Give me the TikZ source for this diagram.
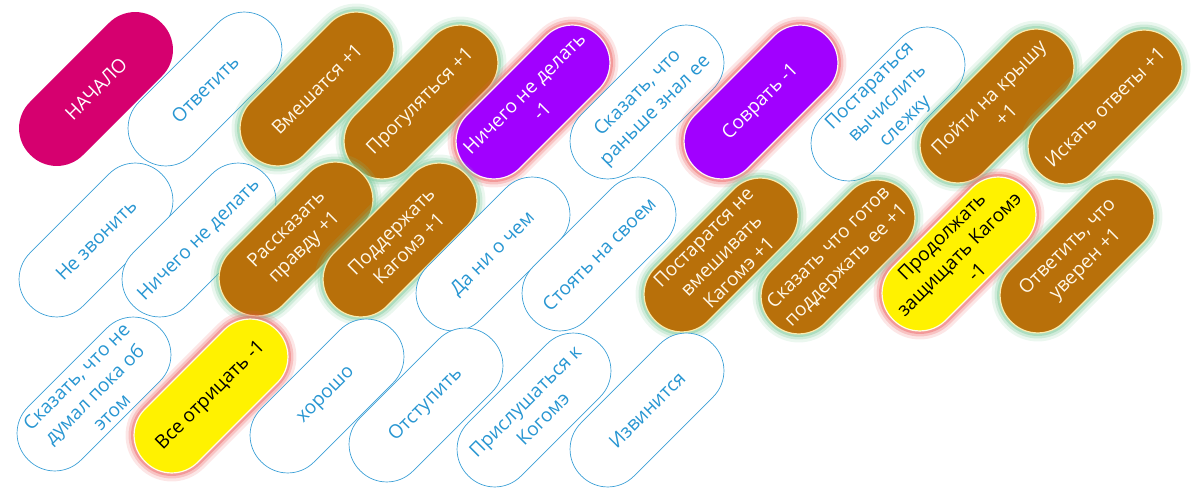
\documentclass[tikz,border=0pt]{standalone}
\usepackage{fontspec}
\setmainfont{Open Sans}
\definecolor{startmag}{RGB}{214,0,111}
\definecolor{textblue}{RGB}{40,150,210}
\definecolor{lineblue}{RGB}{60,160,215}
\definecolor{brownfill}{RGB}{184,112,10}
\definecolor{creamline}{RGB}{250,235,175}
\definecolor{creamtext}{RGB}{255,248,232}
\definecolor{violetfill}{RGB}{161,0,255}
\definecolor{glowgreen}{RGB}{120,200,150}
\definecolor{glowred}{RGB}{235,90,90}
\tikzset{
  font=\fontsize{19}{25}\selectfont,          % text size of the pills
  pill/.style    = {rectangle, rounded corners=37pt, minimum width=186pt,
                    minimum height=75pt, inner sep=0pt, align=center, rotate=45},
  start/.style   = {pill, fill=startmag, text=white},
  neutral/.style = {pill, fill=white, draw=lineblue, line width=0.7pt, text=textblue},
  glow/.style    = {preaction={draw=#1, line width=17pt, draw opacity=.15, line join=round},
                    preaction={draw=#1, line width=11pt, draw opacity=.25, line join=round},
                    preaction={draw=#1, line width=6pt, draw opacity=.4, line join=round}},
  plus/.style    = {pill, glow=glowgreen, fill=brownfill, draw=creamline,
                    line width=1.2pt, text=creamtext},
  minus/.style   = {pill, glow=glowred, fill=violetfill, draw=white!85!pink,
                    line width=1.2pt, text=white},
  risky/.style   = {pill, glow=glowred, fill=yellow, draw=white!90!yellow,
                    line width=1.2pt, text=black}
}
\begin{document}
\begin{tikzpicture}[x=1pt, y=-1pt]
  \useasboundingbox (0,0) rectangle (1194,490);
  % top row
  \node[start]   (begin)   at (96,89)   {НАЧАЛО};
  \node[neutral] (answer)  at (205,89)  {Ответить};
  \node[plus]    (meddle)  at (317,89)  {Вмешатся +1};
  \node[plus]    (walk)    at (421,102) {Прогуляться +1};
  \node[minus]   (idle)    at (533,102) {Ничего не делать\\-1};
  \node[neutral] (knewher) at (647,102) {Сказать, что\\раньше знал ее};
  \node[minus]   (lie)     at (761,102) {Соврать -1};
  \node[neutral] (trace)   at (888,104) {Постараться\\вычислить\\слежку};
  \node[plus]    (roof)    at (997,106) {Пойти на крышу\\+1};
  \node[plus]    (seek)    at (1105,107) {Искать ответы +1};
  % middle row
  \node[neutral] (nocall)  at (96,240)  {Не звонить};
  \node[neutral] (idle2)   at (199,240) {Ничего не делать};
  \node[plus]    (truth)   at (296,239) {Рассказать\\правду +1};
  \node[plus]    (support) at (400,240) {Поддержать\\Кагомэ +1};
  \node[neutral] (nothing) at (493,254) {Да ни о чем};
  \node[neutral] (stand)   at (599,254) {Стоять на своем};
  \node[plus]    (keepout) at (721,255) {Постаратся не\\вмешивать\\Кагомэ +1};
  \node[plus]    (ready)   at (838,257) {Сказать что готов\\поддержать ее +1};
  \node[risky]   (defend)  at (959,254) {Продолжать\\защищать Кагомэ\\-1};
  \node[plus]    (sure)    at (1077,256) {Ответить, что\\уверен +1};
  % bottom row
  \node[neutral] (notyet)  at (94,394)  {Сказать, что не\\думал пока об\\этом};
  \node[risky]   (deny)    at (211,396) {Все отрицать -1};
  \node[neutral] (okay)    at (327,396) {хорошо};
  \node[neutral] (retreat) at (426,405) {Отступить};
  \node[neutral] (listen)  at (534,410) {Прислушаться к\\Когомэ};
  \node[neutral] (sorry)   at (647,410) {Извинится};
\end{tikzpicture}
\end{document}
